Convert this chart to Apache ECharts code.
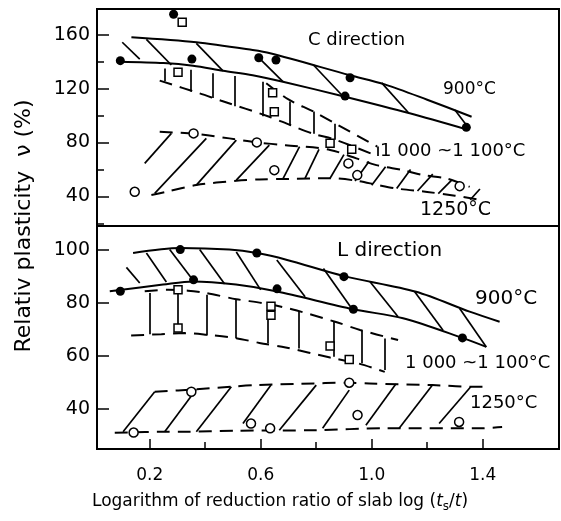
<!DOCTYPE html>
<html>
<head>
<meta charset="utf-8">
<script src="https://cdn.jsdelivr.net/npm/echarts@6/dist/echarts.min.js"></script>
<style>
  html, body { margin: 0; padding: 0; background: #fff; }
  #chart { width: 561px; height: 521px; }
</style>
</head>
<body>
<div id="chart"></div>
<script>
// ---- C direction (upper panel): measured points ----
const cDots = [[0.094,140.8],[0.286,175.3],[0.352,142],[0.593,143],[0.655,141.3],[0.922,128.1],[0.904,114.5],[1.341,91.3]];
const cSquares = [[0.317,169.3],[0.302,132.2],[0.643,117],[0.649,102.9],[0.85,79.4],[0.928,75.1]];
const cCircles = [[0.358,86.8],[0.586,80.1],[0.649,59.5],[0.146,43.4],[0.916,64.5],[0.948,55.8],[1.317,47.6]];

// 900 °C band boundaries and hatching
const c900Top = [[0.134,158.2],[0.368,154.5],[0.571,148.7],[0.634,146.3],[0.922,130],[1.047,123.2],[1.2,111.8],[1.36,99.2]];
const c900Bot = [[0.094,140],[0.25,139],[0.356,137],[0.464,133.3],[0.571,130],[0.68,125.2],[0.904,114],[1.137,101.7],[1.341,89.8]];
const c900Hatch = [[0.101,154.5,0.164,141.9],[0.188,156.7,0.278,137.6],[0.368,153.7,0.464,133.3],[0.59,143.6,0.68,125.2],[0.79,137.6,0.892,115.3],[1.036,124.3,1.131,102.5],[1.3,104.1,1.341,93]];

// 1000~1100 °C band
const c1000Top = [[0.62,124],[0.7,112],[0.79,103],[0.87,94],[1.02,77]];
const c1000Bot = [[0.236,126],[0.38,116.5],[0.458,111],[0.631,99.2],[0.706,93],[0.79,86.5],[0.87,82],[1.02,70]];
const c1000Hatch = [[0.254,135,0.254,125.5],[0.347,134,0.347,118],[0.428,131.5,0.428,113],[0.505,129.4,0.505,107],[0.608,125.2,0.608,99.5],[0.706,110.5,0.706,93],[0.79,103,0.79,86.5],[0.868,94,0.868,82],[1.02,77,1.02,70]];

// 1250 °C band
const c1250Top = [[0.236,88],[0.36,86.5],[0.487,83.1],[0.586,80.1],[0.69,78],[0.85,74.5],[1.017,63.2],[1.113,59.5],[1.185,55.8],[1.27,53.3],[1.353,47.1]];
const c1250Bot = [[0.206,41],[0.26,43.4],[0.368,48.4],[0.512,51.6],[0.595,52.6],[0.7,53],[0.85,53.5],[0.95,51.5],[1.02,48.5],[1.09,45.8],[1.2,43.3],[1.3,40.5],[1.395,37.2]];
const c1250Hatch = [[0.182,64.5,0.278,86.8],[0.218,42.2,0.404,83.1],[0.368,48.4,0.512,81.8],[0.512,52.1,0.631,78.1],[0.68,53,0.74,77],[0.76,53.5,0.81,75],[0.85,53.5,0.9,71],[0.94,51.5,0.99,66],[1.0,48.2,1.05,62],[1.09,45.8,1.14,60],[1.165,44,1.22,56.5],[1.24,42,1.29,52.5],[1.355,37.5,1.39,45.5]];

// ---- L direction (lower panel): measured points ----
const lDots = [[0.094,84.5],[0.31,100.2],[0.358,88.8],[0.586,98.9],[0.659,85.4],[0.9,90],[0.934,77.7],[1.327,66.9]];
const lSquares = [[0.302,85.1],[0.302,70.6],[0.637,78.8],[0.637,75.4],[0.85,63.8],[0.919,58.8]];
const lCircles = [[0.142,31.2],[0.35,46.6],[0.565,34.6],[0.634,32.8],[0.919,50],[0.949,37.8],[1.315,35.2]];

const l900Top = [[0.14,98.9],[0.31,100.8],[0.487,100.2],[0.586,98.9],[0.692,96.4],[0.9,90.2],[1.16,84.3],[1.353,76.8],[1.461,73]];
const l900Bot = [[0.056,84.5],[0.248,87],[0.356,88.2],[0.511,87],[0.655,84.5],[0.934,77.7],[1.113,74.3],[1.327,66.9],[1.413,63.5]];
const l900Hatch = [[0.116,93.5,0.164,87.6],[0.188,98.9,0.26,88],[0.272,100.2,0.35,89.5],[0.38,100.2,0.47,87.2],[0.512,99.3,0.6,85],[0.658,96.3,0.76,82.4],[0.826,93.1,0.928,78],[0.994,88.1,1.095,74.9],[1.155,84.3,1.257,69.8],[1.317,78,1.413,63.5]];

const l1000Top = [[0.182,84.5],[0.266,85.1],[0.338,84.7],[0.404,83.8],[0.512,81.5],[0.608,80],[0.712,77.7],[0.868,73],[0.958,69.9],[1.095,66.1]];
const l1000Bot = [[0.133,67.8],[0.242,68.3],[0.326,68.7],[0.404,68.1],[0.512,66.8],[0.595,65],[0.69,63.3],[0.85,59.5],[0.951,57.3],[1.047,54.1]];
const l1000Hatch = [[0.2,83.8,0.2,68.3],[0.302,85.1,0.302,70.6],[0.407,83.2,0.407,67.8],[0.509,81.3,0.509,66.8],[0.625,78,0.625,64.9],[0.736,76.8,0.736,62.9],[0.862,73,0.862,59.8],[0.964,69.8,0.964,57.3],[1.047,66.7,1.047,54.8]];

const l1250Top = [[0.218,46.6],[0.368,47.5],[0.494,48.5],[0.583,49.1],[0.745,49.6],[0.919,50],[0.991,49.7],[1.219,49.1],[1.357,48.5],[1.423,48.5]];
const l1250Bot = [[0.074,31.1],[0.266,31.5],[0.32,31.5],[0.512,31.9],[0.8,32.1],[1.04,32.8],[1.386,32.8],[1.47,33.3]];
const l1250Hatch = [[0.104,31.5,0.218,46.6],[0.254,31.5,0.368,47.5],[0.368,31.5,0.494,48.5],[0.536,34.6,0.637,49.1],[0.667,32.1,0.8,49.1],[0.823,32.8,0.919,47.2],[0.979,34,1.087,49.5],[1.099,32.8,1.219,49.1],[1.243,34.6,1.357,48.5]];

// ---- axis ticks ----
const xMajor = [0.2, 0.6, 1.0, 1.4];
const xMinor = [0.4, 0.8, 1.2];
const cMajor = [40, 80, 120, 160];
const cMinor = [20, 60, 100, 140];
const lMajor = [40, 60, 80, 100];

const FONT = 'DejaVu Sans';
const INK = '#000';
const X_RANGE = { min: 0.01, max: 1.675 };
const C_RANGE = { min: 18, max: 179.2 };
const L_RANGE = { min: 25, max: 109.1 };

function curve(data, xi, yi, dash) {
  return {
    type: 'line', data: data, xAxisIndex: xi, yAxisIndex: yi,
    symbol: 'none', smooth: 0.3, silent: true, z: 2,
    lineStyle: { color: INK, width: 2, type: dash ? [13, 8] : 'solid' }
  };
}
function hatch(segs, xi, yi) {
  return {
    type: 'lines', coordinateSystem: 'cartesian2d', xAxisIndex: xi, yAxisIndex: yi,
    silent: true, z: 2,
    lineStyle: { color: INK, width: 1.7, opacity: 1 },
    data: segs.map(s => ({ coords: [[s[0], s[1]], [s[2], s[3]]] }))
  };
}
function marks(data, xi, yi, kind) {
  const filled = kind === 'dot';
  return {
    type: 'scatter', data: data, xAxisIndex: xi, yAxisIndex: yi, z: 5, silent: true,
    symbol: kind === 'square' ? 'rect' : 'circle',
    symbolSize: kind === 'square' ? 8 : 9,
    itemStyle: { color: filled ? INK : '#fff', borderColor: INK, borderWidth: filled ? 0 : 1.5, opacity: 1 }
  };
}
function valueAxis(grid, range, position, extra) {
  return Object.assign({
    type: 'value', gridIndex: grid, min: range.min, max: range.max, position: position,
    axisLine: { show: false }, splitLine: { show: false }
  }, extra);
}
function ticks(values, len, labels) {
  return {
    axisTick: { show: true, inside: true, length: len, customValues: values, lineStyle: { color: INK, width: 1.5 } },
    axisLabel: labels ? Object.assign({ customValues: values, color: INK, fontFamily: FONT }, labels) : { show: false }
  };
}

const gridStyle = { show: true, borderColor: INK, borderWidth: 2, backgroundColor: 'transparent', left: 97, right: 2 };

function label(text, left, cy, size) {
  return { type: 'text', left: left, top: cy - size * 0.6, silent: true,
    style: { text: text, fill: INK, font: size + 'px "' + FONT + '"' } };
}

const chart = echarts.init(document.getElementById('chart'), null, { renderer: 'canvas' });
chart.setOption({
  animation: false,
  backgroundColor: '#fff',
  grid: [
    Object.assign({ top: 9, height: 217 }, gridStyle),
    Object.assign({ top: 226, height: 223 }, gridStyle)
  ],
  xAxis: [
    valueAxis(0, X_RANGE, 'bottom', { show: false }),
    valueAxis(1, X_RANGE, 'bottom', ticks(xMajor, 10, { margin: 18, fontSize: 17, formatter: v => v.toFixed(1) })),
    valueAxis(1, X_RANGE, 'bottom', ticks(xMinor, 7, null))
  ],
  yAxis: [
    valueAxis(0, C_RANGE, 'left', ticks(cMajor, 12, { margin: 7, fontSize: 19 })),
    valueAxis(0, C_RANGE, 'left', ticks(cMinor, 7, null)),
    valueAxis(1, L_RANGE, 'left', ticks(lMajor, 12, { margin: 7, fontSize: 19 }))
  ],
  graphic: [
    label('C direction', 308, 42, 18),
    label('900°C', 443, 91, 17),
    label('1 000 ~1 100°C', 380, 153, 18),
    label('1250°C', 420, 212, 19),
    label('L direction', 337, 253, 20),
    label('900°C', 475, 301, 20),
    label('1 000 ~1 100°C', 405, 365, 18),
    label('1250°C', 470, 405, 18),
    {
      type: 'text', x: 24, y: 226, rotation: Math.PI / 2, silent: true,
      style: { text: 'Relativ plasticity  ν (%)', fill: INK, font: '22px "' + FONT + '"', textAlign: 'center', textVerticalAlign: 'middle' }
    },
    {
      type: 'text', left: 92, top: 491, silent: true,
      style: {
        text: 'Logarithm of reduction ratio of slab log ({it|t}{sub|s}/{it|t})',
        fill: INK, font: '17px "' + FONT + '"', lineHeight: 22,
        rich: {
          it: { fontFamily: FONT, fontSize: 17, fontStyle: 'italic', fill: INK, lineHeight: 22 },
          sub: { fontFamily: FONT, fontSize: 12, fill: INK, verticalAlign: 'bottom', lineHeight: 13 }
        }
      }
    }
  ],
  series: [
    curve(c900Top, 0, 0), curve(c900Bot, 0, 0), hatch(c900Hatch, 0, 0),
    curve(c1000Top, 0, 0, true), curve(c1000Bot, 0, 0, true), hatch(c1000Hatch, 0, 0),
    curve(c1250Top, 0, 0, true), curve(c1250Bot, 0, 0, true), hatch(c1250Hatch, 0, 0),
    marks(cDots, 0, 0, 'dot'), marks(cSquares, 0, 0, 'square'), marks(cCircles, 0, 0, 'circle'),

    curve(l900Top, 1, 2), curve(l900Bot, 1, 2), hatch(l900Hatch, 1, 2),
    curve(l1000Top, 1, 2, true), curve(l1000Bot, 1, 2, true), hatch(l1000Hatch, 1, 2),
    curve(l1250Top, 1, 2, true), curve(l1250Bot, 1, 2, true), hatch(l1250Hatch, 1, 2),
    marks(lDots, 1, 2, 'dot'), marks(lSquares, 1, 2, 'square'), marks(lCircles, 1, 2, 'circle')
  ]
});
</script>
</body>
</html>
